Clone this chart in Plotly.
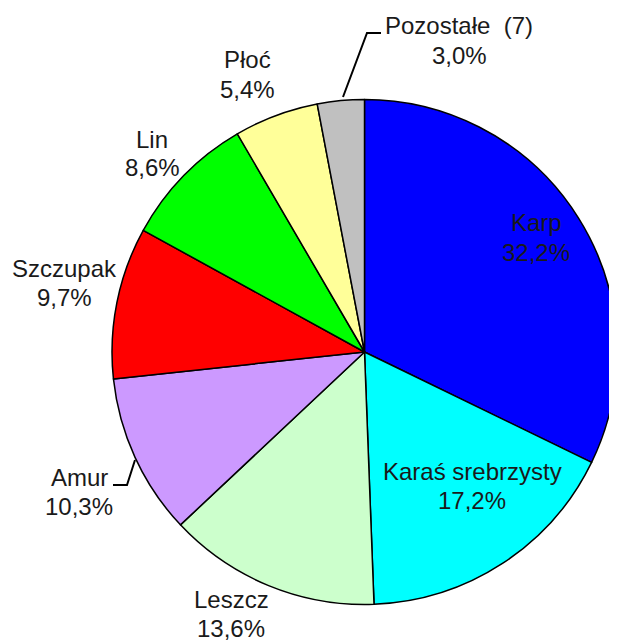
import plotly.graph_objects as go

# --- data ---
species = ["Karp", "Karaś srebrzysty", "Leszcz", "Amur", "Szczupak", "Lin", "Płoć", "Pozostałe  (7)"]
shares = [32.2, 17.2, 13.6, 10.3, 9.7, 8.6, 5.4, 3.0]
colors = ["#0000FF", "#00FFFF", "#CCFFCC", "#CC99FF", "#FF0000", "#00FF00", "#FFFF99", "#C0C0C0"]

# page is rendered with an 8px body margin
OFF = 8
W, H = 617 - OFF, 644 - OFF

# label line centres in page pixels: (x, y_name, y_pct)
label_pos = [(536, 222, 252), (472, 472, 500), (231, 599, 628), (79, 477, 506),
             (64, 268, 297), (152, 139, 168), (247, 60, 89), (459, 26, 56)]


def px(x):
    return (x - OFF) / W


def py(y):
    return 1 - (y - OFF) / H


# pie: centre ~ (365, 352) page px, radius ~253
cx, cy, r = 365, 352, 253

fig = go.Figure(go.Pie(
    labels=species,
    values=shares,
    sort=False,
    direction="clockwise",
    rotation=0,
    marker=dict(colors=colors, line=dict(color="black", width=1.5)),
    textinfo="none",
    hoverinfo="label+percent",
    showlegend=False,
    domain=dict(x=[px(cx - r), 1.0], y=[py(cy + r), py(cy - r)]),
))

font = dict(family="Liberation Sans, Arial, sans-serif", size=24, color="#1a1a1a")
annotations = []
for name, val, (lx, y1, y2) in zip(species, shares, label_pos):
    pct = f"{val:.1f}%".replace(".", ",")
    for txt, yy in ((name, y1), (pct, y2)):
        annotations.append(dict(
            x=px(lx), y=py(yy), xref="paper", yref="paper",
            text=txt, showarrow=False, xanchor="center", yanchor="middle",
            font=font,
        ))


def P(x, y):
    return f"{px(x)} {py(y)}"


shapes = [
    dict(type="path", xref="paper", yref="paper",
         path=f"M {P(343, 97)} L {P(367, 33)} L {P(381, 33)}",
         line=dict(color="black", width=2)),
    dict(type="path", xref="paper", yref="paper",
         path=f"M {P(113, 485)} L {P(127, 485)} L {P(135, 460)}",
         line=dict(color="black", width=2)),
]

fig.update_layout(
    width=W, height=H,
    margin=dict(l=0, r=0, t=0, b=0),
    paper_bgcolor="white", plot_bgcolor="white",
    annotations=annotations, shapes=shapes,
)

fig.write_html("out.html")
